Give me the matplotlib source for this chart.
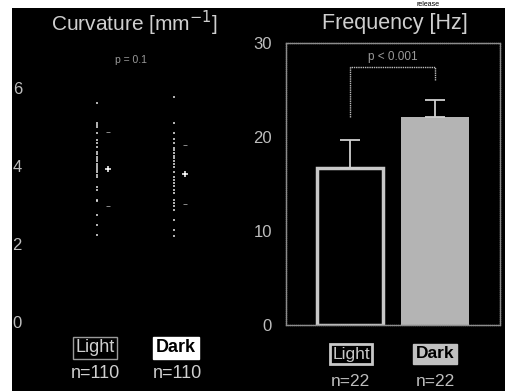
import numpy as np
import matplotlib.pyplot as plt

plt.rcParams["font.family"] = ["Liberation Sans", "DejaVu Sans"]

# curvature values (mm^-1)
light_curv = [5.62, 5.10, 5.05, 5.00, 4.85, 4.67, 4.58, 4.49, 4.36, 4.30, 4.24, 4.18,
              4.12, 4.06, 4.00, 3.95, 3.90, 3.84, 3.78, 3.72, 3.46, 3.38, 3.13, 3.10,
              2.74, 2.49, 2.23]
dark_curv = [5.77, 5.10, 4.85, 4.69, 4.59, 4.46, 4.40, 4.33, 4.26, 4.20, 4.13, 4.05,
             3.97, 3.85, 3.72, 3.64, 3.56, 3.48, 3.38, 3.31, 3.13, 3.05, 2.97, 2.87,
             2.62, 2.36, 2.20]
curv_mean = [3.92, 3.79]
curv_sd = [0.95, 0.76]

groups = ["Light", "Dark"]
freq_mean = [16.7, 22.1]
freq_err = [3.0, 1.8]
n_curv = [110, 110]
n_freq = [22, 22]

W, H = 505, 391
fig = plt.figure(figsize=(W / 100, H / 100), dpi=100, facecolor="white")


def fx(px):
    return px / W


def fy(py):
    return 1 - py / H


# black scanned background
bg = fig.add_axes([fx(12), 0, 1 - fx(12), fy(8)])
bg.set_facecolor("black")
bg.set_xticks([])
bg.set_yticks([])
for s in bg.spines.values():
    s.set_visible(False)

fig.text(fx(428), fy(4), "release", fontsize=5, color="black", ha="center", va="center")

txt = "#cfcfcf"

# left panel: curvature
ax1 = fig.add_axes([fx(40), fy(322), fx(240) - fx(40), fy(49) - fy(322)])
ax1.set_facecolor("none")
ax1.set_ylim(0, 7)
ax1.set_xlim(-0.74, 1.857)
for i, vals in enumerate([light_curv, dark_curv]):
    ax1.plot([i] * len(vals), vals, ls="none", marker="s", ms=1.7, mew=0,
             color="#dcdcdc", alpha=0.8)
    ax1.plot(i + 0.14, curv_mean[i], marker="+", ms=4, mew=1.1, color="white")
    ax1.plot([i + 0.14] * 2, [curv_mean[i] - curv_sd[i], curv_mean[i] + curv_sd[i]],
             ls="none", marker="_", ms=2.5, mew=0.7, color="#8a8a8a")
ax1.set_yticks([0, 2, 4, 6])
ax1.set_xticks([])
ax1.tick_params(axis="y", length=0, pad=13, labelsize=12, labelcolor="#bdbdbd")
for s in ax1.spines.values():
    s.set_visible(False)

fig.text(fx(134), fy(23), "Curvature [mm$^{-1}$]", fontsize=15, color=txt,
         ha="center", va="center")
fig.text(fx(131), fy(60), "p = 0.1", fontsize=7.5, color="#9a9a9a",
         ha="center", va="center")

# right panel: frequency
ax2 = fig.add_axes([fx(286), fy(325), fx(500) - fx(286), fy(43) - fy(325)])
ax2.set_facecolor("none")
ax2.set_ylim(0, 30)
ax2.set_xlim(-0.753, 1.765)
ax2.bar([0], [freq_mean[0]], width=0.78, color="black", edgecolor="#c8c8c8",
        linewidth=2.5)
ax2.bar([1], [freq_mean[1]], width=0.8, color="#b4b4b4", edgecolor="#b4b4b4",
        linewidth=0)
ax2.errorbar([0, 1], freq_mean, yerr=[[0, 0], freq_err], fmt="none",
             ecolor="#d0d0d0", elinewidth=1.3, capsize=7, capthick=1.3)
ax2.plot([0, 0, 1, 1], [22.1, 27.4, 27.4, 26.1], color="#bdbdbd", lw=1, ls=(0, (1, 0.6)))
ax2.text(0.5, 28.5, "p < 0.001", fontsize=8.5, color="#9a9a9a", ha="center", va="center")
ax2.set_yticks([0, 10, 20, 30])
ax2.set_xticks([])
ax2.tick_params(axis="y", length=0, pad=10, labelsize=12, labelcolor="#bdbdbd")
for s in ax2.spines.values():
    s.set_color("#8c8c8c")
    s.set_linewidth(1)
    s.set_linestyle((0, (1, 0.5)))

fig.text(fx(395), fy(23), "Frequency [Hz]", fontsize=15.5, color=txt,
         ha="center", va="center")

# group labels
fig.text(fx(95), fy(348), groups[0], fontsize=13, color="#cfcfcf", ha="center",
         va="center", bbox=dict(boxstyle="square,pad=0.12", fc="black", ec="#9a9a9a", lw=1))
fig.text(fx(176), fy(348), groups[1], fontsize=13, color="black", weight="bold",
         ha="center", va="center", bbox=dict(boxstyle="square,pad=0.15", fc="white", ec="white"))
fig.text(fx(95), fy(374), f"n={n_curv[0]}", fontsize=13, color=txt, ha="center", va="center")
fig.text(fx(177), fy(374), f"n={n_curv[1]}", fontsize=13, color=txt, ha="center", va="center")

fig.text(fx(351), fy(354), groups[0], fontsize=12.5, color="#c8c8c8", ha="center",
         va="center", bbox=dict(boxstyle="square,pad=0.15", fc="black", ec="#c8c8c8", lw=2))
fig.text(fx(435), fy(354), groups[1], fontsize=12.5, color="black", weight="bold",
         ha="center", va="center", bbox=dict(boxstyle="square,pad=0.15", fc="#c0c0c0", ec="#c0c0c0"))
fig.text(fx(350), fy(381), f"n={n_freq[0]}", fontsize=12.5, color="#bdbdbd", ha="center", va="center")
fig.text(fx(435), fy(381), f"n={n_freq[1]}", fontsize=12.5, color="#bdbdbd", ha="center", va="center")

fig.savefig("out.png", dpi=100, facecolor="white")
